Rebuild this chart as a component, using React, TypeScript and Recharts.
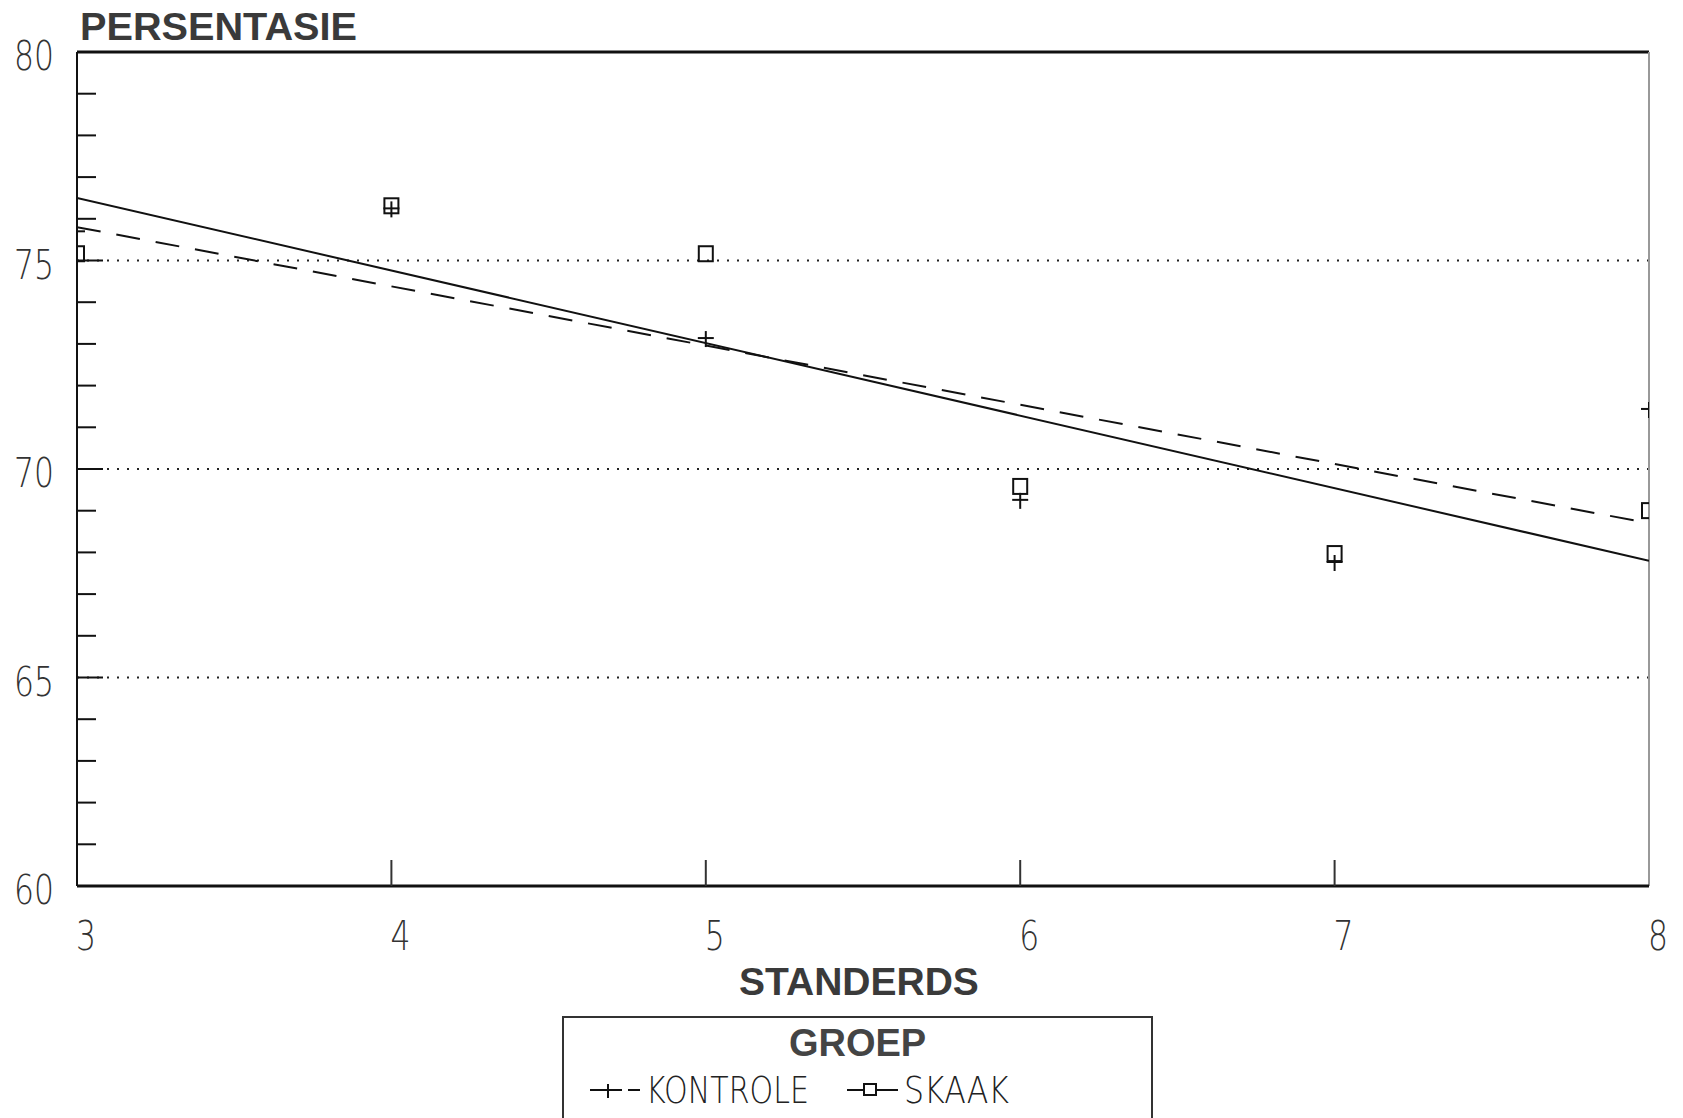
import React from 'react';
import { ComposedChart, Scatter, Line, XAxis, YAxis, ReferenceLine, Legend } from 'recharts';

// standards (x) and percentage per group
const standards = [3, 4, 5, 6, 7, 8];
const kontroleValues = [75.7, 76.25, 73.14, 69.26, 67.77, 71.44];
const skaakValues = [75.15, 76.3, 75.15, 69.57, 67.96, 68.99];

// fitted trend lines (end points)
const fitStandards = [3, 8];
const kontroleFit = [75.8, 68.7];
const skaakFit = [76.5, 67.8];

const yTicks = [60, 61, 62, 63, 64, 65, 66, 67, 68, 69, 70, 71, 72, 73, 74, 75, 76, 77, 78, 79, 80];
const yLabels = [60, 65, 70, 75, 80];
const gridLines = [65, 70, 75];
const xTicks = [3, 4, 5, 6, 7, 8];

const kontroleData = standards.map((x, i) => ({ x, y: kontroleValues[i] }));
const skaakData = standards.map((x, i) => ({ x, y: skaakValues[i] }));
const kontroleFitData = fitStandards.map((x, i) => ({ x, y: kontroleFit[i] }));
const skaakFitData = fitStandards.map((x, i) => ({ x, y: skaakFit[i] }));

const thinFont = '"DejaVu Sans", "Liberation Sans", sans-serif';
const boldFont = '"Liberation Sans", Arial, sans-serif';

const YTick = (props: any) => {
  const { x, y, payload } = props;
  const v = payload.value;
  const major = yLabels.includes(v);
  const len = major ? 26 : 19;
  return (
    <g>
      {v !== 60 && v !== 80 && <line x1={x} y1={y} x2={x + len} y2={y} stroke="#111" strokeWidth={2} />}
      {major && (
        <text x={x - 23} y={y + 4} textAnchor="end" dominantBaseline="central" fontFamily={thinFont} fontWeight={200}
          fontSize={40} fill="#333" textLength={40} lengthAdjust="spacingAndGlyphs">
          {v}
        </text>
      )}
    </g>
  );
};

const XTick = (props: any) => {
  const { x, y, payload } = props;
  const v = payload.value;
  return (
    <g>
      {v !== 3 && v !== 8 && <line x1={x} y1={y} x2={x} y2={y - 26} stroke="#333" strokeWidth={2} />}
      <text x={x + 9} y={y + 50} textAnchor="middle" dominantBaseline="central" fontFamily={thinFont} fontWeight={200}
        fontSize={40} fill="#333" textLength={20} lengthAdjust="spacingAndGlyphs">
        {v}
      </text>
    </g>
  );
};

const PlusShape = (props: any) => {
  const { cx, cy } = props;
  return (
    <g stroke="#111" strokeWidth={2}>
      <line x1={cx - 8} y1={cy} x2={cx + 8} y2={cy} />
      <line x1={cx} y1={cy - 7} x2={cx} y2={cy + 9} />
    </g>
  );
};

const SquareShape = (props: any) => {
  const { cx, cy } = props;
  return <rect x={cx - 7} y={cy - 8} width={14} height={15} fill="none" stroke="#111" strokeWidth={2} />;
};

const GroupLegend = () => (
  <div style={{ width: 591, height: 110, border: '2px solid #333', borderBottom: 'none', boxSizing: 'border-box', position: 'relative' }}>
    <div style={{ position: 'absolute', left: 0, right: 0, top: 6, textAlign: 'center', fontFamily: boldFont, fontWeight: 'bold', fontSize: 38, color: '#444', lineHeight: '38px' }}>
      GROEP
    </div>
    <svg width={591} height={110} style={{ position: 'absolute', left: 0, top: 0 }}>
      <line x1={26} y1={72} x2={58} y2={72} stroke="#111" strokeWidth={2} />
      <line x1={44} y1={66} x2={44} y2={80} stroke="#111" strokeWidth={2} />
      <line x1={64} y1={72} x2={76} y2={72} stroke="#111" strokeWidth={2} />
      <text x={82} y={72} dominantBaseline="central" fontFamily={thinFont} fontWeight={200} fontSize={38} fill="#222"
        textLength={163} lengthAdjust="spacingAndGlyphs">KONTROLE</text>
      <line x1={283} y1={72} x2={334} y2={72} stroke="#111" strokeWidth={2} />
      <rect x={300} y={66} width={12} height={11} fill="#fff" stroke="#111" strokeWidth={2} />
      <text x={340} y={72} dominantBaseline="central" fontFamily={thinFont} fontWeight={200} fontSize={38} fill="#222"
        textLength={105} lengthAdjust="spacingAndGlyphs">SKAAK</text>
    </svg>
  </div>
);

export default function App() {
  return (
    <div style={{ position: 'absolute', left: 0, top: 0, width: 1683, height: 1118, background: '#fff' }}>
      <ComposedChart width={1683} height={1118} margin={{ top: 52, right: 34, left: 17, bottom: 202 }}>
        <XAxis
          type="number"
          dataKey="x"
          domain={[3, 8]}
          ticks={xTicks}
          tick={<XTick />}
          tickSize={0}
          tickMargin={0}
          tickLine={false}
          axisLine={{ stroke: '#111', strokeWidth: 3 }}
          height={30}
          allowDataOverflow
        />
        <YAxis
          type="number"
          dataKey="y"
          domain={[60, 80]}
          ticks={yTicks}
          interval={0}
          tick={<YTick />}
          tickSize={0}
          tickMargin={0}
          tickLine={false}
          axisLine={{ stroke: '#111', strokeWidth: 2 }}
          width={60}
          allowDataOverflow
        />
        {gridLines.map(v => (
          <ReferenceLine key={v} y={v} stroke="#222" strokeWidth={2} strokeDasharray="2 8" />
        ))}
        <ReferenceLine y={80} stroke="#111" strokeWidth={3} />
        <ReferenceLine x={8} stroke="#999" strokeWidth={2} />
        <Line data={skaakFitData} dataKey="y" type="linear" stroke="#111" strokeWidth={2} dot={false} isAnimationActive={false} legendType="none" />
        <Line data={kontroleFitData} dataKey="y" type="linear" stroke="#111" strokeWidth={2} strokeDasharray="24 16" dot={false} isAnimationActive={false} legendType="none" />
        <Scatter name="KONTROLE" data={kontroleData} shape={<PlusShape />} isAnimationActive={false} />
        <Scatter name="SKAAK" data={skaakData} shape={<SquareShape />} isAnimationActive={false} />
        <Legend
          layout="horizontal"
          verticalAlign="middle"
          align="center"
          content={() => <GroupLegend />}
          wrapperStyle={{ left: 562, top: 1016, width: 591, height: 110 }}
        />
        <text x={80} y={40} fontFamily={boldFont} fontWeight="bold" fontSize={38} fill="#3a3a3a" textLength={277} lengthAdjust="spacingAndGlyphs">PERSENTASIE</text>
        <text x={859} y={995} textAnchor="middle" fontFamily={boldFont} fontWeight="bold" fontSize={39} fill="#3a3a3a">STANDERDS</text>
      </ComposedChart>
    </div>
  );
}
